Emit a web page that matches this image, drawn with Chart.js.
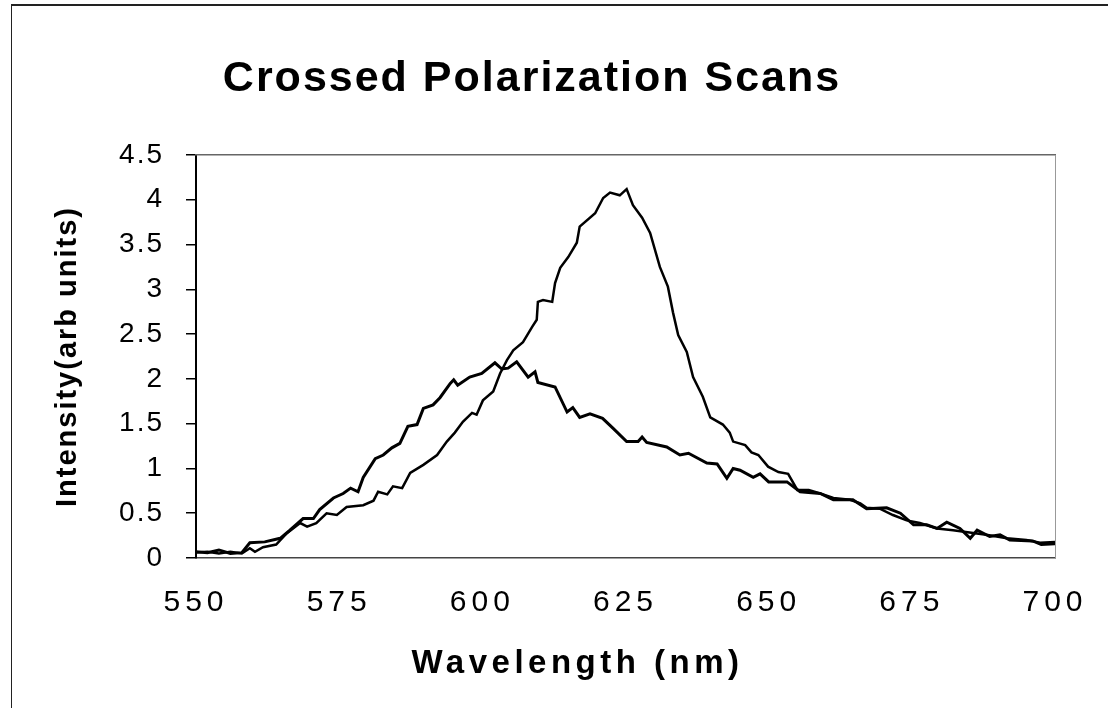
<!DOCTYPE html>
<html>
<head>
<meta charset="utf-8">
<title>Crossed Polarization Scans</title>
<script src="https://cdn.jsdelivr.net/npm/chart.js@4.4.1/dist/chart.umd.min.js"></script>
<style>
  html, body { margin: 0; padding: 0; background: #fff; }
  #wrap { position: relative; width: 1108px; height: 708px; overflow: hidden; }
  #frame { position: absolute; left: 11px; top: 4px; right: -2px; bottom: -2px;
           border-left: 1px solid #222; border-top: 2px solid #222; }
  canvas { position: absolute; left: 0; top: 0; }
</style>
</head>
<body>
<div id="wrap">
  <div id="frame"></div>
  <canvas id="chart" width="1108" height="708"></canvas>
</div>
<script>
// Axis ticks and titles
const xTicks = [550, 575, 600, 625, 650, 675, 700];
const yTicks = [0, 0.5, 1, 1.5, 2, 2.5, 3, 3.5, 4, 4.5];
const xTitle = 'Wavelength (nm)';
const yTitle = 'Intensity(arb units)';

// Scan with the narrow peak near 625 nm
const scan1Wavelength = [550, 552, 554, 556, 558, 559.4, 560.3, 561.7, 564, 565.9, 568.2, 569.4, 571, 572.8, 574.6,
  576.3, 579.2, 581, 581.8, 583.4, 584.4, 586, 587.4, 589.7, 592.1, 593.8, 595.2, 596.6, 598.2, 599, 600.1,
  601.9, 603.1, 604.3, 605.4, 607.1, 608.7, 609.5, 609.7, 610.6, 612.2, 612.7, 613.6, 615, 616.5, 617, 619.7,
  621.1, 622.3, 624, 625.2, 626.3, 627.9, 629.3, 631, 632.4, 633.3, 634.2, 635.7, 636.8, 638.5, 639.8, 642,
  643.2, 643.8, 645.9, 647, 648.2, 649.9, 651.7, 653.4, 655, 657, 659, 661.3, 664.2, 666, 667.1, 669.4, 671.7,
  674.1, 676.4, 679.4, 682.2, 685.7, 688, 691.6, 695, 697.4, 700];
const scan1Intensity = [0.06, 0.07, 0.05, 0.07, 0.05, 0.11, 0.07, 0.12, 0.15, 0.28, 0.39, 0.35, 0.39, 0.50, 0.48,
  0.57, 0.59, 0.64, 0.74, 0.71, 0.80, 0.78, 0.95, 1.04, 1.15, 1.30, 1.40, 1.52, 1.62, 1.60, 1.76,
  1.86, 2.06, 2.21, 2.32, 2.41, 2.58, 2.66, 2.86, 2.88, 2.86, 3.07, 3.24, 3.36, 3.52, 3.70, 3.85,
  4.02, 4.08, 4.05, 4.12, 3.94, 3.80, 3.63, 3.25, 3.03, 2.74, 2.49, 2.30, 2.02, 1.80, 1.57, 1.49,
  1.40, 1.30, 1.26, 1.18, 1.15, 1.02, 0.96, 0.94, 0.76, 0.76, 0.72, 0.67, 0.65, 0.61, 0.56, 0.55, 0.48,
  0.42, 0.39, 0.33, 0.31, 0.28, 0.26, 0.22, 0.20, 0.17, 0.18];

// Scan with the broad peak near 605 nm
const scan2Wavelength = [550, 552, 554, 556, 558, 559.4, 562, 564.7, 566.4, 568.7, 570.5, 571.6, 574, 575.7, 577,
  578.3, 579.2, 581.3, 582.7, 584.2, 585.6, 587, 588.6, 589.7, 591.4, 592.6, 594.4, 595, 595.7, 597.8, 599.9,
  602.2, 603.4, 604.5, 606, 608, 609.2, 609.7, 612.7, 614.8, 615.8, 617, 618.8, 621, 622.8, 625.2, 627.2,
  627.9, 628.7, 632.2, 634.5, 636, 639.2, 641, 642.7, 643.8, 645, 647.3, 648.5, 650, 653.2, 655.5, 659,
  661.3, 664.7, 667.1, 670.6, 673, 675.3, 677.6, 679.4, 681.1, 683.4, 685.2, 686.4, 688.6, 690.4, 692.1,
  696.1, 697.6, 700];
const scan2Intensity = [0.07, 0.06, 0.09, 0.05, 0.06, 0.17, 0.18, 0.22, 0.31, 0.44, 0.44, 0.54, 0.67, 0.72, 0.78,
  0.74, 0.90, 1.11, 1.15, 1.23, 1.28, 1.47, 1.49, 1.67, 1.71, 1.79, 1.95, 1.99, 1.93, 2.02, 2.06,
  2.18, 2.11, 2.12, 2.19, 2.02, 2.08, 1.96, 1.91, 1.63, 1.68, 1.57, 1.61, 1.56, 1.45, 1.30, 1.30,
  1.35, 1.29, 1.24, 1.15, 1.17, 1.06, 1.05, 0.89, 1.00, 0.98, 0.90, 0.94, 0.85, 0.85, 0.74, 0.72,
  0.65, 0.65, 0.55, 0.56, 0.50, 0.37, 0.37, 0.33, 0.40, 0.33, 0.22, 0.31, 0.24, 0.26, 0.20,
  0.19, 0.15, 0.16];

const fontFamily = "'Liberation Sans', Arial, Helvetica, sans-serif";

function toPoints(xs, ys) {
  return xs.map((x, i) => ({ x: x, y: ys[i] }));
}

// Canvas letter spacing: tighter for the title/y axis, wider for the x tick labels (drawn after the data)
const letterSpacing = {
  id: 'letterSpacing',
  beforeDraw(chart) { chart.ctx.letterSpacing = '2px'; },
  afterDatasetsDraw(chart) { chart.ctx.letterSpacing = '5px'; }
};

// The x axis title sits a little left of the plot centre, as in the original
const wavelengthTitle = {
  id: 'wavelengthTitle',
  afterDraw(chart) {
    const { ctx, chartArea } = chart;
    ctx.save();
    ctx.letterSpacing = '4.5px';
    ctx.font = 'bold 33px ' + fontFamily;
    ctx.fillStyle = '#000';
    ctx.textAlign = 'center';
    ctx.textBaseline = 'middle';
    ctx.fillText(xTitle, (chartArea.left + chartArea.right) / 2 - 48, chartArea.bottom + 106);
    ctx.restore();
  }
};

new Chart(document.getElementById('chart'), {
  type: 'line',
  data: {
    datasets: [
      {
        label: 'Scan 1',
        data: toPoints(scan1Wavelength, scan1Intensity),
        borderColor: '#000',
        borderWidth: 2.5,
        pointRadius: 0,
        tension: 0
      },
      {
        label: 'Scan 2',
        data: toPoints(scan2Wavelength, scan2Intensity),
        borderColor: '#000',
        borderWidth: 3,
        pointRadius: 0,
        tension: 0
      }
    ]
  },
  options: {
    responsive: false,
    animation: false,
    // negative left padding moves the centred title a bit to the left
    layout: { padding: { left: -44, right: 0, top: 0, bottom: 0 } },
    plugins: {
      legend: { display: false },
      tooltip: { enabled: false },
      title: {
        display: true,
        text: 'Crossed Polarization Scans',
        color: '#000',
        font: { family: fontFamily, size: 43, weight: 'bold', lineHeight: 1 },
        padding: { top: 58, bottom: 54 }
      }
    },
    scales: {
      x: {
        type: 'linear',
        position: 'bottom',
        min: 550,
        max: 700,
        afterBuildTicks: (scale) => { scale.ticks = xTicks.map(v => ({ value: v })); },
        afterFit: (scale) => { scale.height = 150; },
        grid: { drawOnChartArea: false, drawTicks: false },
        border: { display: true, color: '#444', width: 1.5, dash: [8, 3] },
        ticks: {
          z: 1,
          color: '#000',
          padding: 27,
          maxRotation: 0,
          autoSkip: false,
          font: { family: fontFamily, size: 30 }
        },
        title: { display: false }
      },
      y: {
        type: 'linear',
        position: 'left',
        min: 0,
        max: 4.5,
        afterBuildTicks: (scale) => { scale.ticks = yTicks.map(v => ({ value: v })); },
        afterFit: (scale) => { scale.width = 240; },
        grid: { drawOnChartArea: false, drawTicks: true, tickLength: 10, color: '#000', lineWidth: 1.5 },
        border: { display: true, color: '#000', width: 2 },
        ticks: {
          color: '#000',
          padding: 22,
          font: { family: fontFamily, size: 28 },
          callback: (value) => String(value)
        },
        title: {
          display: true,
          text: yTitle,
          color: '#000',
          font: { family: fontFamily, size: 29, weight: 'bold' },
          padding: { top: 95, bottom: 0 }
        }
      },
      x2: {
        type: 'linear',
        position: 'top',
        min: 550,
        max: 700,
        afterFit: (scale) => { scale.height = 0; },
        grid: { drawOnChartArea: false, drawTicks: false },
        border: { display: true, color: '#666', width: 1.5, dash: [10, 4] },
        ticks: { display: false }
      },
      y2: {
        type: 'linear',
        position: 'right',
        min: 0,
        max: 4.5,
        afterFit: (scale) => { scale.width = 53; },
        grid: { drawOnChartArea: false, drawTicks: false },
        border: { display: true, color: '#999', width: 1, dash: [3, 6] },
        ticks: { display: false }
      }
    }
  },
  plugins: [letterSpacing, wavelengthTitle]
});
</script>
</body>
</html>
